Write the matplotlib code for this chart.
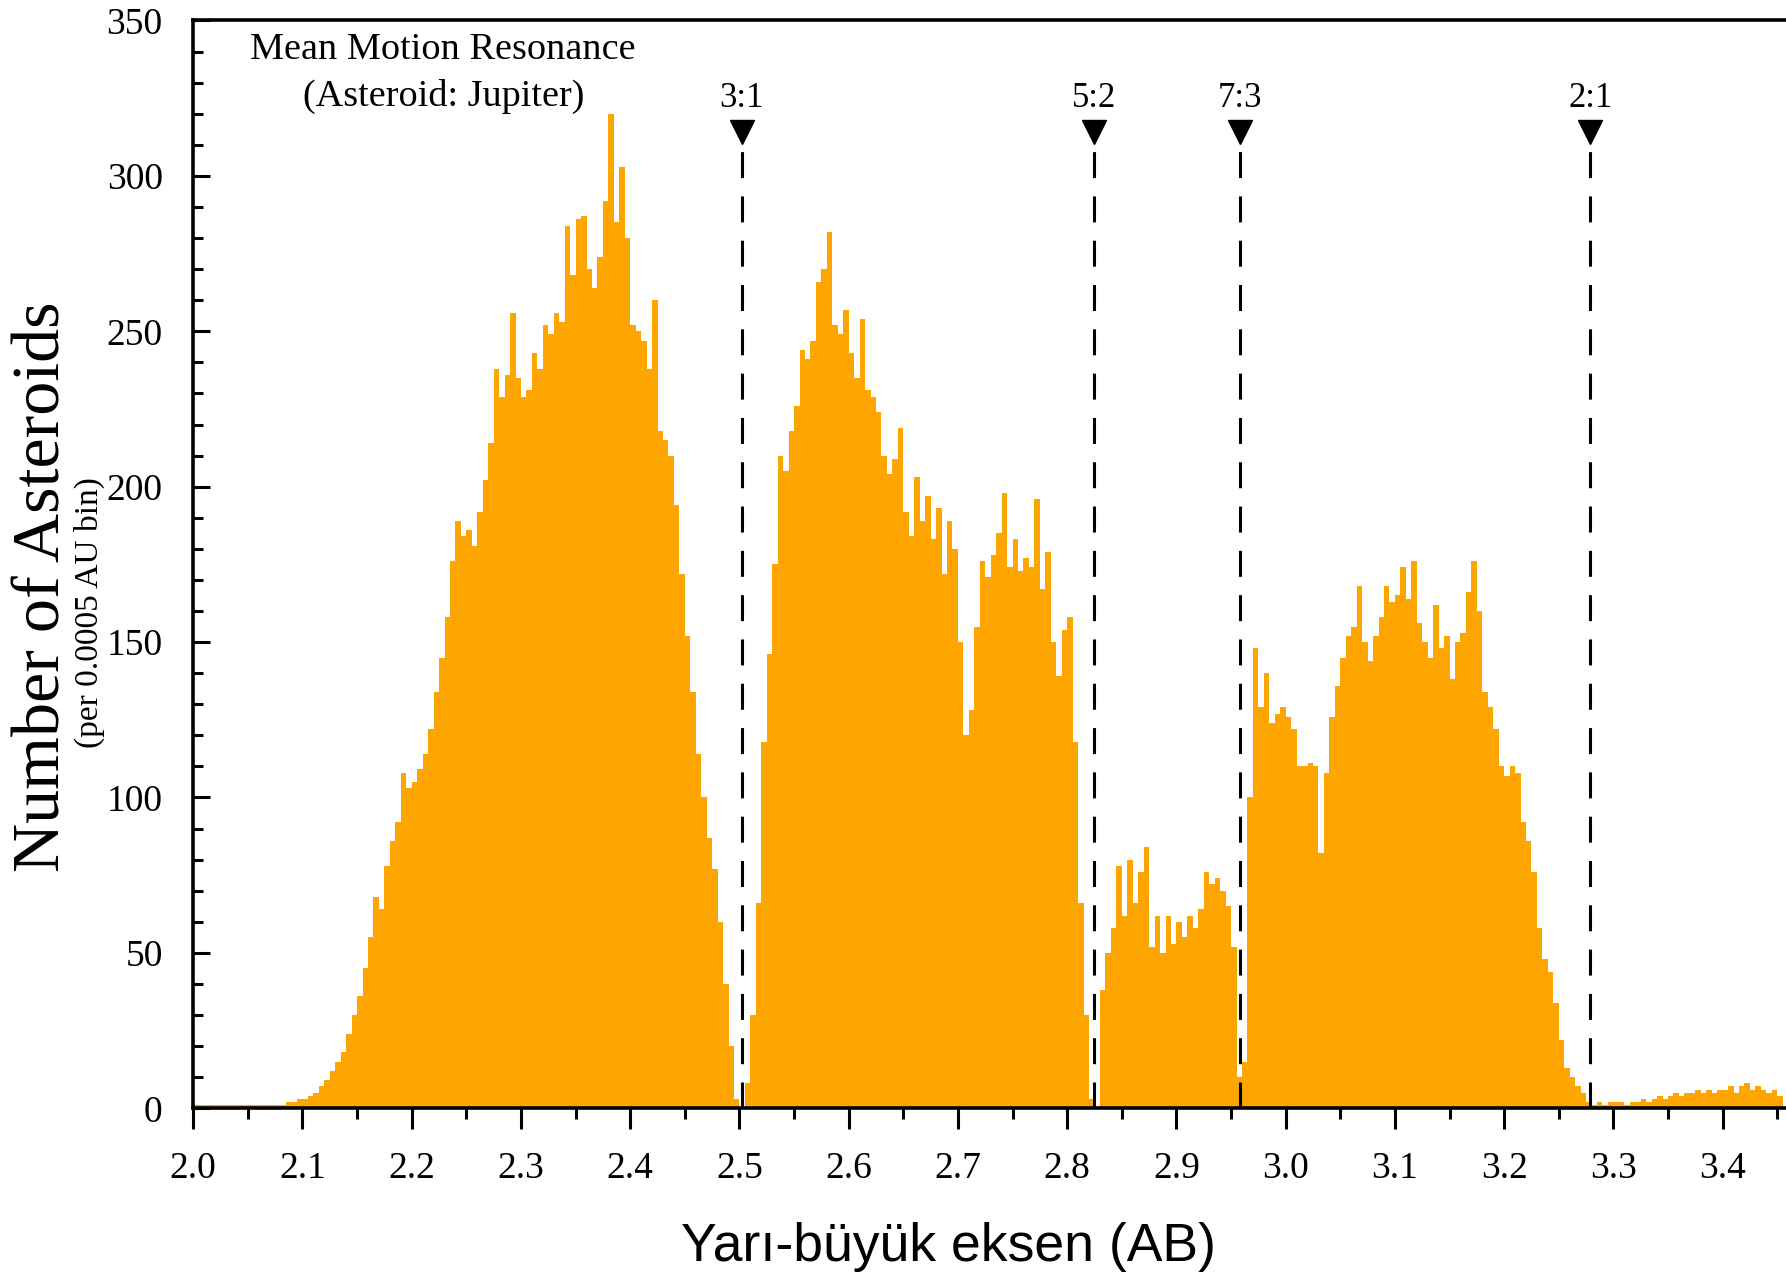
import numpy as np
import matplotlib
matplotlib.use("Agg")
from matplotlib import pyplot as plt
from matplotlib.ticker import MultipleLocator

# histogram of main-belt semi-major axes, 0.005 AU bins starting at 2.0 AU
bin_start = 2.0
bin_width = 0.005
counts_20 = [1, 1, 1, 1, 1, 1, 1, 1, 1, 1, 1, 1, 1, 1, 1, 1, 1, 2, 2, 3]
counts_21 = [3, 4, 5, 7, 9, 12, 15, 18, 24, 30, 36, 45, 55, 68, 64, 78, 86, 92, 108, 103]
counts_22 = [105, 109, 114, 122, 134, 145, 158, 176, 189, 184, 186, 181, 192, 202, 214, 238, 229, 236, 256, 235]
counts_23 = [229, 231, 243, 238, 252, 249, 256, 253, 284, 268, 286, 287, 270, 264, 274, 292, 320, 285, 303, 280]
counts_24 = [252, 250, 247, 238, 260, 218, 215, 210, 194, 172, 152, 134, 114, 100, 87, 77, 60, 40, 20, 3]
counts_25 = [0, 8, 30, 66, 118, 146, 175, 210, 205, 218, 226, 244, 241, 247, 266, 270, 282, 252, 249, 257]
counts_26 = [243, 235, 254, 231, 229, 224, 210, 204, 209, 219, 192, 184, 203, 189, 197, 183, 193, 172, 189, 180]
counts_27 = [150, 120, 128, 155, 176, 171, 178, 185, 198, 174, 183, 173, 177, 174, 196, 167, 179, 150, 139, 154]
counts_28 = [158, 118, 66, 30, 3, 0, 38, 50, 58, 78, 62, 80, 66, 76, 84, 52, 62, 50, 62, 53]
counts_29 = [60, 55, 62, 58, 64, 76, 72, 74, 70, 65, 52, 10, 15, 100, 148, 129, 140, 124, 127, 129]
counts_30 = [126, 122, 110, 110, 111, 110, 82, 108, 126, 136, 145, 152, 155, 168, 150, 144, 152, 158, 168, 163]
counts_31 = [165, 174, 164, 176, 156, 150, 145, 162, 148, 152, 138, 150, 153, 166, 176, 160, 134, 129, 122, 110]
counts_32 = [107, 110, 108, 92, 86, 76, 58, 48, 44, 34, 22, 13, 10, 7, 5, 2, 1, 2, 1, 2]
counts_33 = [2, 2, 1, 2, 2, 3, 2, 3, 4, 3, 4, 5, 4, 5, 5, 6, 5, 6, 5, 6]
counts_34 = [6, 7, 5, 7, 8, 6, 7, 6, 5, 6, 4]

# Kirkwood gaps (mean motion resonances with Jupiter)
resonance_a = [2.502, 2.825, 2.958, 3.279]
resonance_labels = ["3:1", "5:2", "7:3", "2:1"]

counts = np.array(counts_20 + counts_21 + counts_22 + counts_23 + counts_24
                  + counts_25 + counts_26 + counts_27 + counts_28 + counts_29
                  + counts_30 + counts_31 + counts_32 + counts_33 + counts_34)
edges = bin_start + bin_width * np.arange(len(counts) + 1)

serif = ["Liberation Serif", "DejaVu Serif"]
plt.rcParams["font.family"] = serif

fig = plt.figure(figsize=(17.86, 12.79), dpi=100)
ax = fig.add_axes([0.1082, 0.1335, 1.0 - 0.1082, 0.984 - 0.1335])

ax.stairs(counts, edges, fill=True, color="#FFA500", linewidth=0)

for a, lab in zip(resonance_a, resonance_labels):
    ax.plot([a, a], [0, 311], color="black", lw=2.2, dashes=(8.5, 6))
    ax.plot([a], [314], marker="v", ms=17, color="black", clip_on=False)
    ax.text(a, 325, lab, ha="center", va="center", fontsize=25)

ax.text(0.157, 0.973, "Mean Motion Resonance", transform=ax.transAxes,
        ha="center", va="center", fontsize=27.5)
ax.text(0.157, 0.930, "(Asteroid: Jupiter)", transform=ax.transAxes,
        ha="center", va="center", fontsize=27.5)

ax.set_xlim(2.0, 3.458)
ax.set_ylim(0, 350)

ax.xaxis.set_major_locator(MultipleLocator(0.1))
ax.xaxis.set_minor_locator(MultipleLocator(0.05))
ax.yaxis.set_major_locator(MultipleLocator(50))
ax.yaxis.set_minor_locator(MultipleLocator(10))
ax.set_xticklabels([f"{v:.1f}" for v in ax.get_xticks()])

ax.tick_params(axis="x", which="major", direction="out", length=15, width=2.2,
               labelsize=27, pad=16)
ax.tick_params(axis="x", which="minor", direction="out", length=8, width=2.2)
ax.tick_params(axis="y", which="major", direction="in", length=12, width=2.2,
               labelsize=27, pad=22)
ax.tick_params(axis="y", which="minor", direction="in", length=7, width=2.2)

for side in ("left", "bottom", "top"):
    ax.spines[side].set_linewidth(2.6)
ax.spines["right"].set_visible(False)

fig.text(0.024, 0.541, "Number of Asteroids", rotation=90, ha="center",
         va="center", fontsize=49)
fig.text(0.050, 0.521, "(per 0.0005 AU bin)", rotation=90, ha="center",
         va="center", fontsize=24)
fig.text(0.531, 0.025, "Yarı-büyük eksen (AB)", ha="center", va="center",
         fontsize=38.5, family=["Liberation Sans", "DejaVu Sans"])

fig.savefig("out.png", dpi=100)
